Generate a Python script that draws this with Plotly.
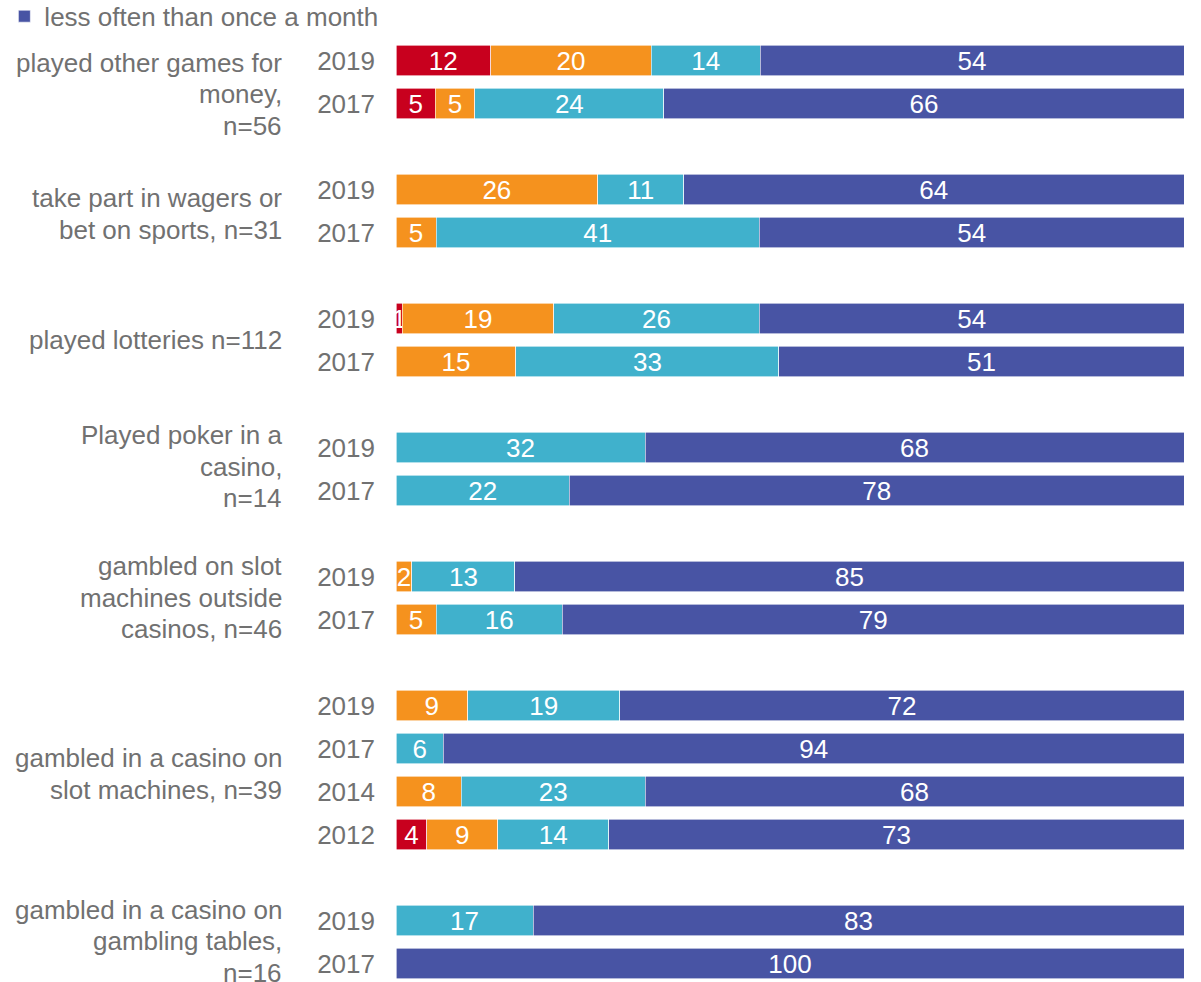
import plotly.graph_objects as go

# ---- data ----
groups = [
    "played other games for<br>money,<br>n=56",
    "take part in wagers or<br>bet on sports, n=31",
    "played lotteries n=112",
    "Played poker in a<br>casino,<br>n=14",
    "gambled on slot<br>machines outside<br>casinos, n=46",
    "gambled in a casino on<br>slot machines, n=39",
    "gambled in a casino on<br>gambling tables,<br>n=16",
]
group_years = [
    ["2019", "2017"],
    ["2019", "2017"],
    ["2019", "2017"],
    ["2019", "2017"],
    ["2019", "2017"],
    ["2019", "2017", "2014", "2012"],
    ["2019", "2017"],
]
series_names = ["at least once a week", "a few times a month",
                "about once a month", "less often than once a month"]
series_colors = ["#C8001E", "#F5921E", "#40B1CC", "#4854A4"]

# values per row (top to bottom), None = no bar
s_red = [12, 5, None, None, 0.8, None, None, None, None, None, None, None, None, 3.9, None, None]
s_orange = [20.4, 5, 25.6, 5.1, 19.2, 15.2, None, None, 2, 5.1, 9.1, None, 8.3, 9, None, None]
s_cyan = [13.8, 24, 10.9, 41, 26.1, 33.4, 31.6, 22, 13.1, 16, 19.3, 6, 23.3, 14.1, 17.4, None]
s_blue = [53.8, 66, 63.5, 53.9, 53.9, 51.4, 68.4, 78, 84.9, 78.9, 71.6, 94, 68.4, 73, 82.6, 100]
label_offsets = [0.28, 0.07, 0, -0.05, -0.01, 0.09, -0.02]
LINE_GAP = 31.5

# ---- positions from structure (one empty slot between groups) ----
row_pos, row_years, group_centers = [], [], []
slot = 0
for gi, yrs in enumerate(group_years):
    start = slot
    for yr in yrs:
        row_pos.append(slot)
        row_years.append(yr)
        slot += 1
    group_centers.append((start + slot - 1) / 2 + label_offsets[gi])
    slot += 1

FONT = "Liberation Sans, Arial, sans-serif"
GREY = "#717171"
FS = 26

fig = go.Figure()
for name, color, vals in zip(series_names, series_colors, [s_red, s_orange, s_cyan, s_blue]):
    fig.add_trace(go.Bar(
        x=vals, y=row_pos, orientation="h", name=name,
        marker=dict(color=color, line=dict(color="white", width=0.6)),
        width=0.72,
        texttemplate="%{x:.0f}", textposition="inside", insidetextanchor="middle",
        textangle=0,
        textfont=dict(color="white", size=FS, family=FONT),
        showlegend=(name == "less often than once a month"),
        hoverinfo="skip",
    ))

for txt, yc in zip(groups, group_centers):
    lines = txt.split("<br>")
    n = len(lines)
    for i, line in enumerate(lines):
        fig.add_annotation(text=line, xref="paper", yref="y", x=-0.142, y=yc,
                           yshift=-(i - (n - 1) / 2) * LINE_GAP,
                           xanchor="right", yanchor="middle", align="right",
                           showarrow=False, font=dict(size=FS, color=GREY, family=FONT))

fig.update_layout(
    barmode="stack",
    width=1201, height=982,
    margin=dict(l=396, r=17, t=39, b=0, autoexpand=False),
    plot_bgcolor="white", paper_bgcolor="white",
    font=dict(family=FONT, size=FS, color=GREY),
    uniformtext=dict(minsize=FS, mode="show"),
    legend=dict(x=-0.497, xanchor="left", y=1.049, yanchor="top",
                orientation="h", font=dict(size=FS, color=GREY, family=FONT),
                itemwidth=30, bgcolor="rgba(0,0,0,0)"),
    xaxis=dict(range=[0, 100], visible=False),
    yaxis=dict(range=[21.43, -0.5], tickmode="array", tickvals=row_pos,
               ticktext=row_years, showgrid=False, zeroline=False, ticks="",
               ticklabelstandoff=20, tickfont=dict(size=FS, color=GREY, family=FONT)),
)

fig.write_html("out.html", config={"displayModeBar": False},
               post_script="document.body.style.margin='0';document.body.style.overflow='hidden';")
